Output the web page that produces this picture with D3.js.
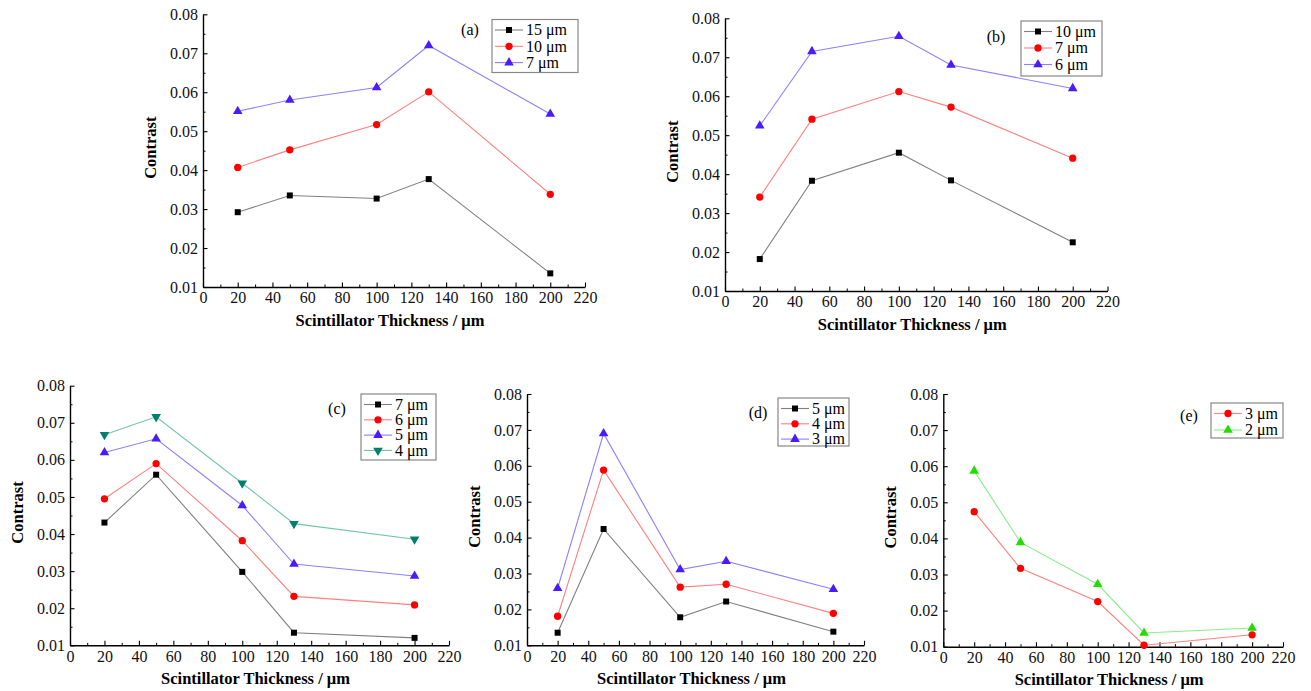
<!DOCTYPE html>
<html>
<head>
<meta charset="utf-8">
<script src="https://cdn.jsdelivr.net/npm/d3@7"></script>
<style>
  body { margin: 0; background: #fff; }
  svg text { font-family: "Liberation Serif", "DejaVu Serif", serif; }
</style>
</head>
<body>
<svg width="1311" height="691" font-family="Liberation Serif, DejaVu Serif, serif"></svg>
<script>
// data
const thickness = [20, 50, 100, 130, 200];
const xTickValues = [0, 20, 40, 60, 80, 100, 120, 140, 160, 180, 200, 220];
const yTickValues = [0.01, 0.02, 0.03, 0.04, 0.05, 0.06, 0.07, 0.08];

const aLabels = ['15 μm', '10 μm', '7 μm'];
const aValues = [
  [0.0292, 0.0335, 0.0327, 0.0377, 0.0135],
  [0.0407, 0.0452, 0.0517, 0.0601, 0.0338],
  [0.0551, 0.0580, 0.0612, 0.0720, 0.0544]
];
const bLabels = ['10 μm', '7 μm', '6 μm'];
const bValues = [
  [0.0182, 0.0383, 0.0455, 0.0384, 0.0225],
  [0.0341, 0.0541, 0.0612, 0.0572, 0.0441],
  [0.0524, 0.0715, 0.0754, 0.0680, 0.0620]
];
const cLabels = ['7 μm', '6 μm', '5 μm', '4 μm'];
const cValues = [
  [0.0431, 0.0560, 0.0298, 0.0134, 0.0120],
  [0.0495, 0.0590, 0.0382, 0.0232, 0.0209],
  [0.0620, 0.0657, 0.0477, 0.0319, 0.0287],
  [0.0668, 0.0716, 0.0537, 0.0428, 0.0386]
];
const dLabels = ['5 μm', '4 μm', '3 μm'];
const dValues = [
  [0.0135, 0.0424, 0.0178, 0.0222, 0.0138],
  [0.0181, 0.0588, 0.0262, 0.0270, 0.0189],
  [0.0259, 0.0690, 0.0311, 0.0334, 0.0256]
];
const eLabels = ['3 μm', '2 μm'];
const eValues = [
  [0.0474, 0.0317, 0.0225, 0.0104, 0.0133],
  [0.0587, 0.0389, 0.0273, 0.0138, 0.0152]
];

// marker / line styles (Origin defaults)
const styles = {
  square:  {shape: d3.symbolSquare,   size: 36, fill: '#000000', line: '#808080', rot: 0},
  circle:  {shape: d3.symbolCircle,   size: 42, fill: '#ff0000', line: '#ff8080', rot: 0},
  tri:     {shape: d3.symbolTriangle, size: 40, fill: '#4a1bff', line: '#8c80ff', rot: 0},
  triDown: {shape: d3.symbolTriangle, size: 40, fill: '#00806a', line: '#70c4aa', rot: 180},
  green:   {shape: d3.symbolTriangle, size: 40, fill: '#22dd00', line: '#88ee88', rot: 0}
};

const panels = [
  {tag: '(a)', labels: aLabels, values: aValues, st: ['square', 'circle', 'tri'],
   x0: 203, x1: 585, yTop: 14.3, yBot: 287, tagPos: [470, 29],
   legend: {x: 492, y: 19.5, w: 86, h: 53, rowH: 16.3}},
  {tag: '(b)', labels: bLabels, values: bValues, st: ['square', 'circle', 'tri'],
   x0: 725, x1: 1107.5, yTop: 18.3, yBot: 291, tagPos: [996, 36],
   legend: {x: 1021, y: 21, w: 81, h: 55, rowH: 16.5}},
  {tag: '(c)', labels: cLabels, values: cValues, st: ['square', 'circle', 'tri', 'triDown'],
   x0: 70, x1: 449, yTop: 385.7, yBot: 645.3, tagPos: [337, 408],
   legend: {x: 361, y: 394, w: 75, h: 66, rowH: 15.3}},
  {tag: '(d)', labels: dLabels, values: dValues, st: ['square', 'circle', 'tri'],
   x0: 527, x1: 864, yTop: 394, yBot: 645.3, tagPos: [758, 412],
   legend: {x: 778, y: 398, w: 71, h: 48, rowH: 15.3}},
  {tag: '(e)', labels: eLabels, values: eValues, st: ['circle', 'green'],
   x0: 943.3, x1: 1283, yTop: 394, yBot: 646.7, tagPos: [1189, 415],
   legend: {x: 1211, y: 403, w: 72, h: 35, rowH: 16.5}}
];

const FONT = 'Liberation Serif, DejaVu Serif, serif';
const svg = d3.select('svg');
svg.append('rect').attr('width', 1311).attr('height', 691).attr('fill', '#fff');

const sym = s => d3.symbol().type(styles[s].shape).size(styles[s].size);

panels.forEach(p => {
  const xScale = d3.scaleLinear().domain([0, 220]).range([p.x0, p.x1]);
  const yScale = d3.scaleLinear().domain([0.01, 0.08]).range([p.yBot, p.yTop]);
  const g = svg.append('g').attr('font-family', FONT);

  // minor ticks first, then major axes on top
  const xMinor = xTickValues.slice(0, -1).map(v => v + 10);
  const yMinor = yTickValues.slice(0, -1).map(v => v + 0.005);
  g.append('g').attr('transform', `translate(0,${p.yBot})`)
    .call(d3.axisBottom(xScale).tickValues(xMinor).tickSize(-2.5).tickFormat(''))
    .call(a => a.select('.domain').remove());
  g.append('g').attr('transform', `translate(${p.x0},0)`)
    .call(d3.axisLeft(yScale).tickValues(yMinor).tickSize(-2.5).tickFormat(''))
    .call(a => a.select('.domain').remove());

  const xAxisG = g.append('g').attr('transform', `translate(0,${p.yBot})`)
    .call(d3.axisBottom(xScale).tickValues(xTickValues).tickSizeInner(-4.5).tickSizeOuter(0)
      .tickPadding(5).tickFormat(d3.format('d')));
  const yAxisG = g.append('g').attr('transform', `translate(${p.x0},0)`)
    .call(d3.axisLeft(yScale).tickValues(yTickValues).tickSizeInner(-4.5).tickSizeOuter(0)
      .tickPadding(5).tickFormat(d3.format('.2f')));
  [xAxisG, yAxisG].forEach(a => {
    a.attr('font-family', FONT).attr('font-size', null);
    a.selectAll('text').attr('font-size', 16).attr('fill', '#111');
    a.select('.domain').attr('stroke-width', 1.4);
    a.selectAll('.tick line').attr('stroke-width', 1.1);
  });

  // axis titles
  g.append('text')
    .attr('x', (p.x0 + p.x1) / 2 - 4).attr('y', p.yBot + 38.5)
    .attr('text-anchor', 'middle').attr('font-weight', 'bold').attr('font-size', 16.5)
    .text('Scintillator Thickness / μm');
  g.append('text')
    .attr('transform', `translate(${p.x0 - 47},${(p.yTop + p.yBot) / 2 - 3}) rotate(-90)`)
    .attr('text-anchor', 'middle').attr('font-weight', 'bold').attr('font-size', 16.5)
    .text('Contrast');

  // series
  const line = d3.line().x((d, i) => xScale(thickness[i])).y(d => yScale(d));
  p.values.forEach((vals, k) => {
    const st = styles[p.st[k]];
    g.append('path').datum(vals)
      .attr('d', line).attr('fill', 'none')
      .attr('stroke', st.line).attr('stroke-width', 1.1);
    g.selectAll(null).data(vals).enter().append('path')
      .attr('d', sym(p.st[k]))
      .attr('transform', (d, i) => `translate(${xScale(thickness[i])},${yScale(d)}) rotate(${st.rot})`)
      .attr('fill', st.fill);
  });

  // panel tag
  g.append('text').attr('x', p.tagPos[0]).attr('y', p.tagPos[1])
    .attr('text-anchor', 'middle').attr('dy', '0.35em').attr('font-size', 16)
    .text(p.tag);

  // legend
  const L = p.legend;
  const lg = g.append('g').attr('transform', `translate(${L.x},${L.y})`);
  lg.append('rect').attr('width', L.w).attr('height', L.h)
    .attr('fill', '#fff').attr('stroke', '#888').attr('stroke-width', 1.2);
  p.labels.forEach((lab, k) => {
    const st = styles[p.st[k]];
    const cy = 10.5 + k * L.rowH;
    lg.append('line').attr('x1', 3).attr('x2', 31).attr('y1', cy).attr('y2', cy)
      .attr('stroke', st.line).attr('stroke-width', 1.1);
    lg.append('path').attr('d', sym(p.st[k]))
      .attr('transform', `translate(17,${cy}) rotate(${st.rot})`).attr('fill', st.fill);
    lg.append('text').attr('x', 34).attr('y', cy).attr('dy', '0.33em')
      .attr('font-size', 16).text(lab);
  });
});
</script>
</body>
</html>
